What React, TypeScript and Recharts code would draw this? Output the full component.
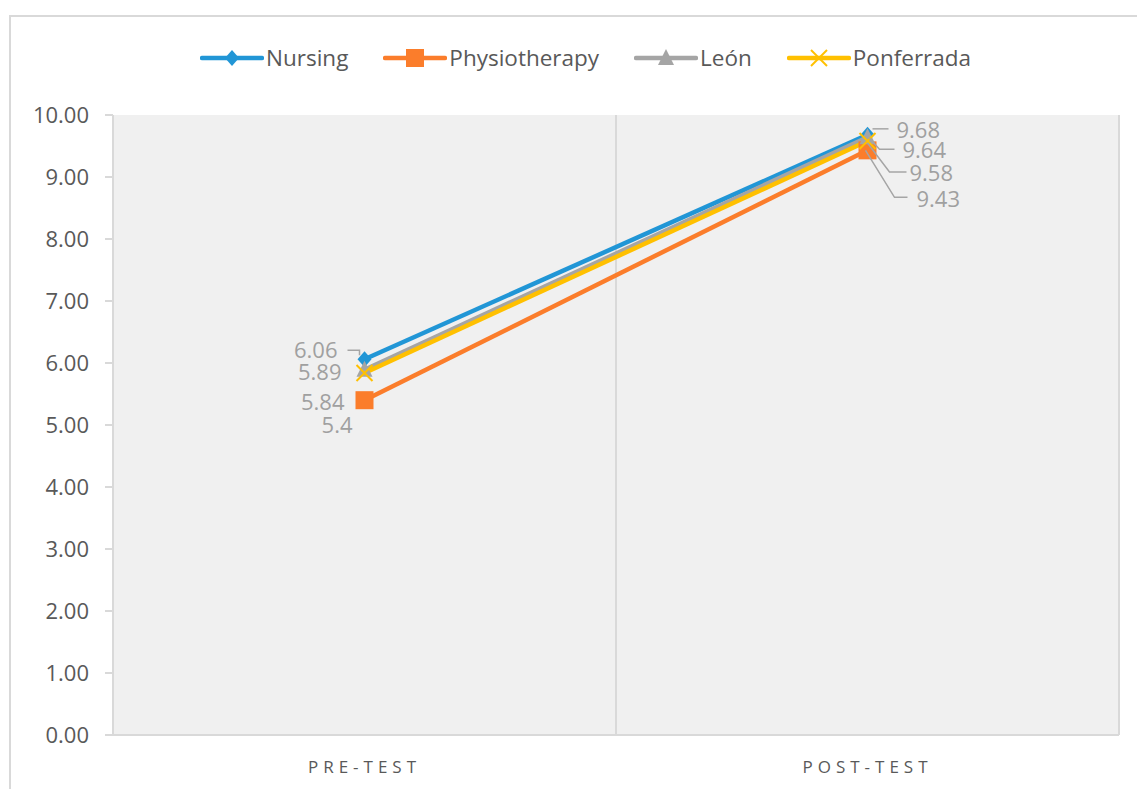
import { LineChart, Line, XAxis, YAxis, CartesianGrid, ReferenceLine, LabelList } from 'recharts'

const categories = ['PRE-TEST', 'POST-TEST']
const nursing = [6.06, 9.68]
const physiotherapy = [5.4, 9.43]
const leon = [5.89, 9.64]
const ponferrada = [5.84, 9.58]
const yTicks = [0, 1, 2, 3, 4, 5, 6, 7, 8, 9, 10]

const data = categories.map((c, i) => ({
  x: i + 0.5,
  name: c,
  nursing: nursing[i],
  physiotherapy: physiotherapy[i],
  leon: leon[i],
  ponferrada: ponferrada[i],
}))

type Shape = 'diamond' | 'square' | 'triangle' | 'x'

// label placement relative to the point: [dx, dy, anchor, leader polyline]
type LabelPos = { dx: number; dy: number; anchor: 'start' | 'end'; leader?: [number, number][] }

const series: { key: string; name: string; color: string; shape: Shape; labels: LabelPos[] }[] = [
  {
    key: 'nursing', name: 'Nursing', color: '#2196d6', shape: 'diamond',
    labels: [
      { dx: -27, dy: -9, anchor: 'end', leader: [[-17, -9], [-5, -9], [-5, -4]] },
      { dx: 29, dy: -5, anchor: 'start', leader: [[5, -6], [21, -6]] },
    ],
  },
  {
    key: 'physiotherapy', name: 'Physiotherapy', color: '#fb7d2b', shape: 'square',
    labels: [
      { dx: -12, dy: 25, anchor: 'end' },
      { dx: 49, dy: 49, anchor: 'start', leader: [[-2, 0], [27, 47], [40, 47]] },
    ],
  },
  {
    key: 'leon', name: 'León', color: '#a5a5a5', shape: 'triangle',
    labels: [
      { dx: -23, dy: 2, anchor: 'end' },
      { dx: 35, dy: 13, anchor: 'start', leader: [[2, 1], [12, 12], [27, 12]] },
    ],
  },
  {
    key: 'ponferrada', name: 'Ponferrada', color: '#ffc000', shape: 'x',
    labels: [
      { dx: -20, dy: 29, anchor: 'end' },
      { dx: 42, dy: 32, anchor: 'start', leader: [[0, 2], [22, 31], [39, 31]] },
    ],
  },
]

function Marker({ cx, cy, shape, color }: { cx: number; cy: number; shape: Shape; color: string }) {
  if (shape === 'diamond') {
    return <path d={`M${cx},${cy - 8} L${cx + 7},${cy} L${cx},${cy + 8} L${cx - 7},${cy} Z`} fill={color} />
  }
  if (shape === 'square') {
    return <rect x={cx - 9} y={cy - 9} width={18} height={18} fill={color} />
  }
  if (shape === 'triangle') {
    return <path d={`M${cx},${cy - 9} L${cx + 8},${cy + 7} L${cx - 8},${cy + 7} Z`} fill={color} />
  }
  return (
    <g stroke={color} strokeWidth={2}>
      <line x1={cx - 8} y1={cy - 8} x2={cx + 8} y2={cy + 8} />
      <line x1={cx - 8} y1={cy + 8} x2={cx + 8} y2={cy - 8} />
    </g>
  )
}

const font = '"Open Sans", sans-serif'

export default function App() {
  return (
    <div style={{ position: 'absolute', left: 0, top: 0, width: 1137, height: 789, background: '#fff', fontFamily: font, overflow: 'hidden' }}>
      <div style={{ position: 'absolute', left: 9, top: 15, width: 1200, height: 900, borderTop: '2px solid #d9d9d9', borderLeft: '2px solid #d9d9d9' }} />
      <div style={{ position: 'absolute', left: 200, top: 43, display: 'flex', gap: 35, alignItems: 'center' }}>
        {series.map((s) => (
          <div key={s.key} style={{ display: 'flex', alignItems: 'center', gap: 2 }}>
            <svg width={64} height={24}>
              <line x1={2} y1={12} x2={62} y2={12} stroke={s.color} strokeWidth={4.5} strokeLinecap="round" />
              <Marker cx={32} cy={12} shape={s.shape} color={s.color} />
            </svg>
            <span style={{ fontSize: 22.5, color: '#595959', lineHeight: '30px' }}>{s.name}</span>
          </div>
        ))}
      </div>
      <div style={{ position: 'absolute', left: 0, top: 0 }}>
        <LineChart width={1137} height={789} data={data} margin={{ top: 115, right: 18, left: 13, bottom: 14 }}>
          <CartesianGrid fill="#f0f0f0" horizontal={false} vertical={false} />
          <XAxis
            dataKey="x"
            type="number"
            domain={[0, 2]}
            ticks={[0.5, 1.5]}
            tickFormatter={(v: number) => categories[Math.floor(v)]}
            axisLine={{ stroke: '#d9d9d9', strokeWidth: 2 }}
            tickLine={false}
            tickMargin={20}
            height={40}
            tick={{ fontSize: 17, fill: '#595959', letterSpacing: 5, fontFamily: font }}
          />
          <YAxis
            domain={[0, 10]}
            ticks={yTicks}
            interval={0}
            width={100}
            tickFormatter={(v: number) => v.toFixed(2)}
            axisLine={{ stroke: '#d9d9d9', strokeWidth: 2 }}
            tickLine={{ stroke: '#d9d9d9', strokeWidth: 2 }}
            tickSize={8}
            tickMargin={16}
            tick={{ fontSize: 22, fill: '#595959', fontFamily: font }}
          />
          <ReferenceLine x={1} stroke="#d9d9d9" strokeWidth={2} />
          <ReferenceLine x={2} stroke="#d9d9d9" strokeWidth={2} />
          {series.map((s) => (
            <Line
              key={s.key}
              dataKey={s.key}
              name={s.name}
              stroke={s.color}
              strokeWidth={4.5}
              isAnimationActive={false}
              dot={(p: any) => <Marker key={`${s.key}-${p.index}`} cx={p.cx} cy={p.cy} shape={s.shape} color={s.color} />}
              activeDot={false}
            >
              <LabelList
                dataKey={s.key}
                content={(p: any) => {
                  const pos = s.labels[p.index]
                  if (!pos) return null
                  const x = Number(p.x)
                  const y = Number(p.y)
                  return (
                    <g>
                      {pos.leader && (
                        <polyline
                          points={pos.leader.map(([a, b]) => `${x + a},${y + b}`).join(' ')}
                          fill="none"
                          stroke="#a5a5a5"
                          strokeWidth={1.5}
                        />
                      )}
                      <text x={x + pos.dx} y={y + pos.dy} dy="0.35em" textAnchor={pos.anchor} fontSize={22} fill="#a0a0a0" fontFamily={font}>
                        {String(p.value)}
                      </text>
                    </g>
                  )
                }}
              />
            </Line>
          ))}
        </LineChart>
      </div>
    </div>
  )
}
